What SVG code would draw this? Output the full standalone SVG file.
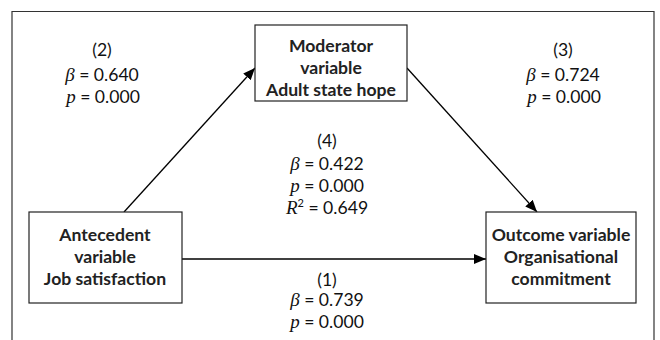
<svg xmlns="http://www.w3.org/2000/svg" width="660" height="340" viewBox="0 0 660 340">
<style>
.box{fill:#fff;stroke:#222;stroke-width:1.2}
.nl{font-family:Lato,"Liberation Sans",sans-serif;font-weight:bold;font-size:17.6px;fill:#222;text-anchor:middle}
.st{font-family:Lato,"Liberation Sans",sans-serif;font-size:17.6px;fill:#111;text-anchor:middle}
.it{font-family:"Liberation Serif",serif;font-style:italic;font-size:19px}
.con{stroke:#000;stroke-width:1.3;fill:none;marker-end:url(#ah)}
</style>
<defs>
<marker id="ah" viewBox="0 0 12 10" refX="12" refY="5" markerWidth="12" markerHeight="10" markerUnits="userSpaceOnUse" orient="auto">
<path d="M0,0 L12,5 L0,10 Z" fill="#000"/>
</marker>
</defs>
<rect width="660" height="340" fill="#fff"/>
<path d="M12,345 V11.5 H654 V345" fill="none" stroke="#333" stroke-width="1.2"/>
<g id="connectors">
<line class="con" x1="124" y1="212" x2="255" y2="68"/>
<line class="con" x1="407" y1="68" x2="537" y2="212"/>
<line class="con" x1="182" y1="259" x2="486" y2="259"/>
</g>
<g id="moderator">
<rect class="box" x="255" y="25" width="152" height="76"/>
<text class="nl" x="331" y="52">Moderator</text>
<text class="nl" x="331" y="74">variable</text>
<text class="nl" x="331" y="96">Adult state hope</text>
</g>
<g id="antecedent">
<rect class="box" x="29" y="212" width="153" height="91"/>
<text class="nl" x="105" y="241">Antecedent</text>
<text class="nl" x="105" y="263">variable</text>
<text class="nl" x="105" y="285">Job satisfaction</text>
</g>
<g id="outcome">
<rect class="box" x="486" y="212" width="150" height="91"/>
<text class="nl" x="561" y="241">Outcome variable</text>
<text class="nl" x="561" y="263">Organisational</text>
<text class="nl" x="561" y="285">commitment</text>
</g>
<g id="label2">
<text class="st" x="102" y="56">(2)</text>
<text class="st" x="102" y="81"><tspan class="it">β</tspan> = 0.640</text>
<text class="st" x="103" y="103"><tspan class="it">p</tspan> = 0.000</text>
</g>
<g id="label3">
<text class="st" x="563" y="56">(3)</text>
<text class="st" x="563" y="81"><tspan class="it">β</tspan> = 0.724</text>
<text class="st" x="564" y="103"><tspan class="it">p</tspan> = 0.000</text>
</g>
<g id="label4">
<text class="st" x="327" y="147">(4)</text>
<text class="st" x="327" y="170"><tspan class="it">β</tspan> = 0.422</text>
<text class="st" x="327" y="192"><tspan class="it">p</tspan> = 0.000</text>
<text class="st" x="327" y="214"><tspan class="it">R</tspan><tspan font-size="11" dy="-7">2</tspan><tspan dy="7"> = 0.649</tspan></text>
</g>
<g id="label1">
<text class="st" x="327" y="286">(1)</text>
<text class="st" x="327" y="306"><tspan class="it">β</tspan> = 0.739</text>
<text class="st" x="327" y="328"><tspan class="it">p</tspan> = 0.000</text>
</g>
</svg>
